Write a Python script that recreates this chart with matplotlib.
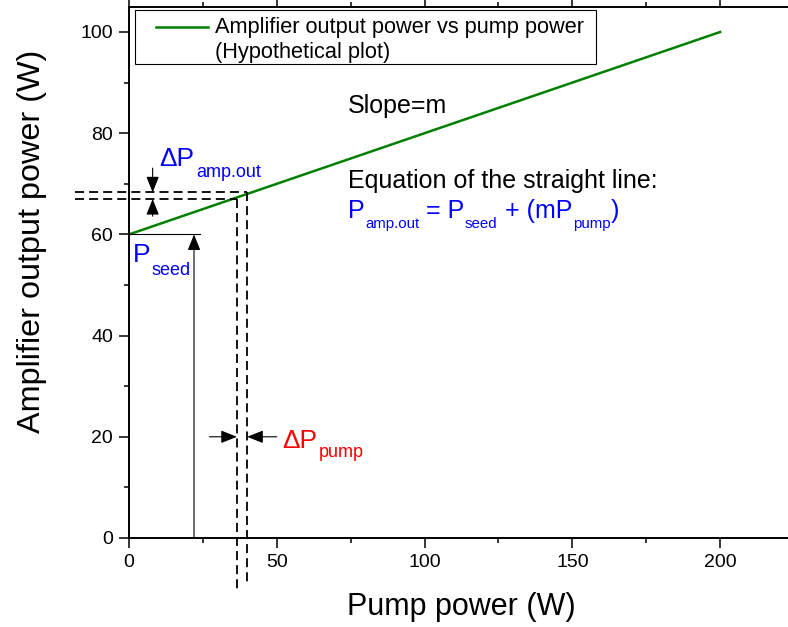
import matplotlib
matplotlib.use("Agg")
import matplotlib.pyplot as plt
from matplotlib.transforms import offset_copy, IdentityTransform
from matplotlib.ticker import MultipleLocator
from matplotlib.legend_handler import HandlerLine2D
from matplotlib.patches import Rectangle

plt.rcParams['font.family'] = ['Liberation Sans', 'DejaVu Sans']

# Hypothetical amplifier characteristic: output power vs pump power
pump_power = [0, 200]
amp_output = [60, 100]

# Seed power marker
p_seed = 60
seed_marker_x = 22
seed_line_end = 24

# Small pump step and the corresponding output step
pump_marks = [36.5, 40]
amp_marks = [67.0, 68.3]

x_ticks = [0, 50, 100, 150, 200]
y_ticks = [0, 20, 40, 60, 80, 100]

W, H = 788, 627
fig = plt.figure(figsize=(W / 100, H / 100), dpi=100)
ax = fig.add_axes([129 / W, (H - 538) / H, 665 / W, 531.3 / H])
ax.set_xlim(0, 225)
ax.set_ylim(0, 105)

ax.set_xticks(x_ticks)
ax.set_yticks(y_ticks)
ax.xaxis.set_minor_locator(MultipleLocator(25))
ax.yaxis.set_minor_locator(MultipleLocator(10))
ax.tick_params(which='both', direction='out', top=True, right=False,
               width=1.1, labelsize=14, pad=4.5)
ax.tick_params(which='major', length=7)
ax.tick_params(which='minor', length=3.5)
for sp in ax.spines.values():
    sp.set_linewidth(1.4)

ax.plot(pump_power, amp_output, color='#008000', lw=1.8,
        label='Amplifier output power vs pump power\n(Hypothetical plot)')


class FirstLineHandler(HandlerLine2D):
    """Legend line drawn level with the first line of a two-line label."""

    def create_artists(self, legend, orig_handle, xdescent, ydescent,
                       width, height, fontsize, trans):
        artists = super().create_artists(legend, orig_handle, xdescent, ydescent,
                                         width, height, fontsize, trans)
        for a in artists:
            a.set_ydata([y + 0.6 * fontsize for y in a.get_ydata()])
        return artists


leg_shift_px = 3
leg = ax.legend(loc='upper left',
                bbox_to_anchor=(0.009, 0.9938 - leg_shift_px / 531.3),
                borderaxespad=0, fontsize=15.7, frameon=False,
                borderpad=0.2, handlelength=3.15, handletextpad=0.33,
                handler_map={matplotlib.lines.Line2D: FirstLineHandler(xpad=0.78)})

ax.set_xlabel('Pump power (W)', fontsize=22)
ax.set_ylabel('Amplifier output power (W)', fontsize=23.3)
ax.xaxis.set_label_coords(0.5, -0.1016)
ax.yaxis.set_label_coords(-0.124, 0.558)

# Dashed guide lines for the pump step
dash = (0, (5, 2.8))
ax.plot([-18.3, pump_marks[1]], [amp_marks[1]] * 2, color='k', lw=1.3, ls=dash, clip_on=False)
ax.plot([-18.3, pump_marks[0]], [amp_marks[0]] * 2, color='k', lw=1.3, ls=dash, clip_on=False)
ax.plot([pump_marks[0]] * 2, [amp_marks[0], -10.3], color='k', lw=1.3, ls=dash, clip_on=False)
ax.plot([pump_marks[1]] * 2, [amp_marks[1], -8.9], color='k', lw=1.3, ls=dash, clip_on=False)

# Seed level
ax.plot([0, seed_line_end], [p_seed, p_seed], color='k', lw=0.8)
head = '-|>,head_length=0.5,head_width=0.2'
arrow_kw = dict(arrowstyle=head, mutation_scale=19.5, color='k', lw=0.8,
                shrinkA=0, shrinkB=0)
ax.annotate('', xy=(seed_marker_x, p_seed), xytext=(seed_marker_x, 0), arrowprops=arrow_kw)

# Output-step arrows
ax.annotate('', xy=(8, amp_marks[1]), xytext=(8, 73.1), arrowprops=arrow_kw)
ax.annotate('', xy=(8, amp_marks[0]), xytext=(8, 63.6), arrowprops=arrow_kw)

# Pump-step arrows
ax.annotate('', xy=(pump_marks[0], 20), xytext=(27.2, 20), arrowprops=arrow_kw)
ax.annotate('', xy=(pump_marks[1], 20), xytext=(50, 20), arrowprops=arrow_kw)

renderer = fig.canvas.get_renderer()

# Legend frame: same top and bottom as the unshifted legend, wider on the right
lb = leg.get_window_extent(renderer)
fig.patches.append(Rectangle((lb.x0, lb.y0 + leg_shift_px), lb.width + 7, lb.height,
                             transform=IdentityTransform(), fill=False,
                             edgecolor='black', linewidth=0.8))


def rich_text(x, y, pieces, color, gap=1.5):
    """Draw text made of (string, size, drop_px) pieces side by side."""
    dx = 0.0
    for s, size, drop in pieces:
        tr = offset_copy(ax.transData, fig=fig, x=dx, y=-drop, units='dots')
        t = ax.text(x, y, s, fontsize=size, color=color, transform=tr,
                    ha='left', va='baseline', clip_on=False)
        dx += t.get_window_extent(renderer).width + gap


rich_text(10.25, 73.5, [('ΔP', 19, 0), ('amp.out', 13, 10.7)], 'blue')
rich_text(1.25, 54.6, [('P', 19, 0), ('seed', 13, 13)], 'blue')
rich_text(51.7, 17.7, [('ΔP', 19, 0), ('pump', 13, 8.4)], 'red')

ax.text(74.1, 84.0, 'Slope=m', fontsize=18, ha='left', va='baseline')
ax.text(74.1, 69.1, 'Equation of the straight line:', fontsize=18, ha='left', va='baseline')
rich_text(74.1, 63.2, [('P', 18, 0), ('amp.out', 10.8, 9.5), (' = P', 18, 0),
                       ('seed', 10.8, 9.5), (' + (mP', 18, 0), ('pump', 10.8, 9.5),
                       (')', 18, 0)], 'blue', gap=0.3)

fig.savefig('out.png', dpi=100)
